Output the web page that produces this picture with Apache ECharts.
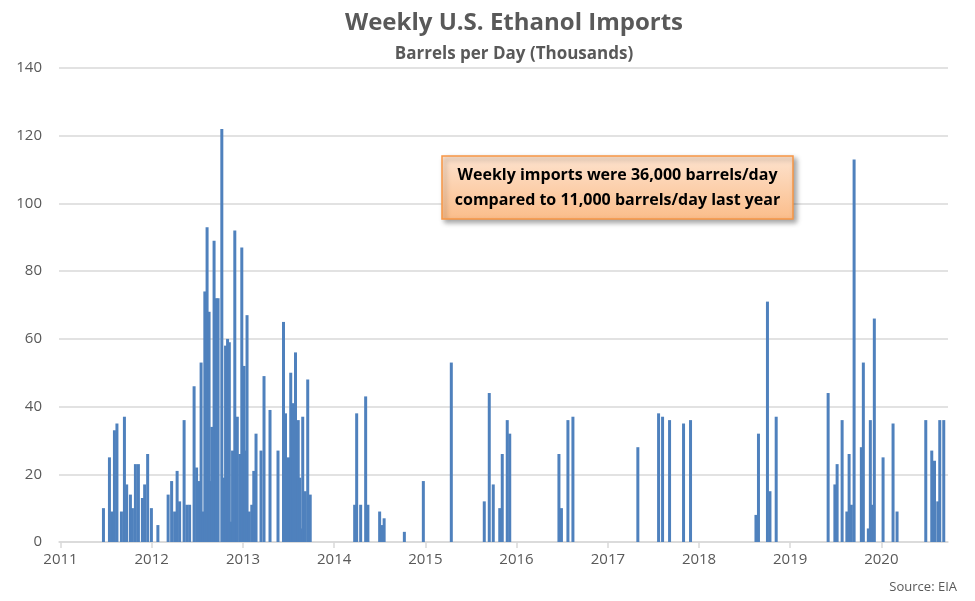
<!DOCTYPE html>
<html>
<head>
<meta charset="utf-8">
<script src="https://cdn.jsdelivr.net/npm/echarts@6/dist/echarts.min.js"></script>
<style>
html,body{margin:0;padding:0;background:#fff;}
#chart{width:975px;height:601px;}
</style>
</head>
<body>
<div id="chart"></div>
<script>
// Week dates (approximate) with non-zero imports
const weekDates = [
'2011-06-22','2011-07-16','2011-07-25','2011-08-05','2011-08-15','2011-09-02','2011-09-14','2011-09-23','2011-10-08','2011-10-16','2011-10-28','2011-11-09','2011-11-25','2011-12-04','2011-12-16','2011-12-31',
'2012-01-26','2012-03-07','2012-03-21','2012-04-02','2012-04-12','2012-04-22','2012-05-10','2012-05-21','2012-06-01','2012-06-19','2012-06-29','2012-07-07','2012-07-17','2012-07-25','2012-08-01','2012-08-10','2012-08-18','2012-08-23','2012-08-29','2012-09-07','2012-09-15','2012-09-23','2012-10-08','2012-10-16','2012-10-23','2012-10-31','2012-11-07','2012-11-13','2012-11-20','2012-11-29','2012-12-09','2012-12-19','2012-12-27',
'2013-01-05','2013-01-10','2013-01-17','2013-01-26','2013-02-05','2013-02-13','2013-02-22','2013-03-14','2013-03-26','2013-04-19','2013-05-21','2013-06-12','2013-06-20','2013-07-02','2013-07-11','2013-07-21','2013-07-25','2013-07-30','2013-08-10','2013-08-16','2013-08-23','2013-08-28','2013-09-07','2013-09-17','2013-09-27',
'2014-03-24','2014-04-01','2014-04-17','2014-05-07','2014-05-16','2014-07-02','2014-07-11','2014-07-20','2014-10-09','2014-12-24',
'2015-04-15','2015-08-25','2015-09-14','2015-09-30','2015-10-26','2015-11-05','2015-11-25','2015-12-05',
'2016-06-19','2016-06-29','2016-07-25','2016-08-14',
'2017-05-01','2017-07-23','2017-08-08','2017-09-05','2017-10-31','2017-11-28',
'2018-08-17','2018-08-27','2018-10-02','2018-10-12','2018-11-06',
'2019-06-02','2019-06-29','2019-07-08','2019-07-28','2019-08-16','2019-08-25','2019-09-03','2019-09-14','2019-10-13','2019-10-21','2019-11-10','2019-11-18','2019-11-24','2019-12-04',
'2020-01-08','2020-02-17','2020-03-04','2020-06-27','2020-07-21','2020-08-01','2020-08-14','2020-08-22','2020-09-07'
];
// Barrels per day (thousands)
const importValues = [
10,25,9,33,35,9,37,17,14,10,23,23,13,17,26,10,
5,14,18,9,21,12,36,11,11,46,22,18,53,9,74,93,68,18,34,89,72,72,122,19,58,60,59,6,27,92,37,26,87,
52,27,67,9,11,21,32,27,49,39,27,65,38,25,50,41,13,56,36,19,4,37,15,48,14,
11,38,11,43,11,9,5,7,3,18,
53,12,44,17,10,26,36,32,
26,10,36,37,
28,38,37,36,35,36,
8,32,71,15,37,
44,17,23,36,9,26,11,113,28,53,4,36,11,66,
25,35,9,36,27,24,12,36,36
];
const yTicks = [0,20,40,60,80,100,120,140];
const titleText = 'Weekly U.S. Ethanol Imports';
const subtitleText = 'Barrels per Day (Thousands)';
const noteLines = ['Weekly imports were 36,000 barrels/day', 'compared to 11,000 barrels/day last year'];
const sourceText = 'Source: EIA';

const FONT = "'Open Sans', 'Noto Sans', sans-serif";
const chart = echarts.init(document.getElementById('chart'), null, {renderer: 'canvas'});
const YEAR = 365 * 24 * 3600 * 1000;

chart.setOption({
  animation: false,
  backgroundColor: '#ffffff',
  title: [
    {text: titleText, left: 509, top: 6, textAlign: 'center',
     textStyle: {fontFamily: FONT, fontSize: 24, fontWeight: 'bold', color: '#595959'}},
    {text: subtitleText, left: 509, top: 41, textAlign: 'center',
     textStyle: {fontFamily: FONT, fontSize: 17, fontWeight: 'bold', color: '#595959'}}
  ],
  grid: {left: 59, right: 27, top: 68, bottom: 59, containLabel: false},
  xAxis: {
    type: 'time',
    min: '2011-01-01',
    max: '2020-09-18',
    splitNumber: 10,
    minInterval: YEAR,
    maxInterval: YEAR * 1.01,
    axisLine: {show: true, lineStyle: {color: '#d9d9d9', width: 1.5}},
    axisTick: {show: true, length: 6, lineStyle: {color: '#d9d9d9', width: 1.5}},
    splitLine: {show: false},
    axisLabel: {
      fontFamily: FONT, fontSize: 15, color: '#595959', margin: 10,
      formatter: function (v) { return String(new Date(v).getFullYear()); }
    }
  },
  yAxis: {
    type: 'value',
    min: yTicks[0],
    max: yTicks[yTicks.length - 1],
    interval: 20,
    axisLine: {show: false},
    axisTick: {show: false},
    splitLine: {show: true, lineStyle: {color: '#d9d9d9', width: 1.5}},
    axisLabel: {fontFamily: FONT, fontSize: 15, color: '#595959', margin: 17}
  },
  series: [{
    type: 'bar',
    barWidth: 3,
    itemStyle: {color: '#4f81bd'},
    emphasis: {disabled: true},
    data: weekDates.map(function (d, i) { return [d, importValues[i]]; })
  }],
  graphic: [
    {
      type: 'rect',
      shape: {x: 442, y: 156, width: 351, height: 63},
      style: {
        fill: {type: 'linear', x: 0, y: 0, x2: 0, y2: 1,
               colorStops: [{offset: 0, color: '#fde3cf'}, {offset: 1, color: '#fbbd8a'}]},
        stroke: '#f79646', lineWidth: 1.5,
        shadowBlur: 5, shadowOffsetX: 3, shadowOffsetY: 3, shadowColor: 'rgba(0,0,0,0.35)'
      },
      z: 10
    },
    {
      type: 'text',
      x: 617.5, y: 188,
      style: {
        text: noteLines.join('\n'), align: 'center', verticalAlign: 'middle',
        fontFamily: FONT, fontSize: 16, fontWeight: 'bold', fill: '#000', lineHeight: 25
      },
      z: 11
    },
    {
      type: 'text',
      x: 957, y: 587,
      style: {text: sourceText, align: 'right', verticalAlign: 'middle',
              fontFamily: FONT, fontSize: 13, fill: '#595959'},
      z: 11
    }
  ]
});
</script>
</body>
</html>
